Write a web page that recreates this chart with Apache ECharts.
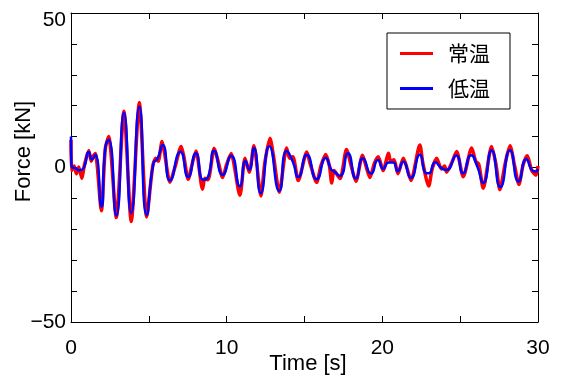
<!DOCTYPE html>
<html>
<head>
<meta charset="utf-8">
<script src="https://cdn.jsdelivr.net/npm/echarts@6/dist/echarts.min.js"></script>
<style>
  html, body { margin: 0; padding: 0; background: #fff; }
  #chart { width: 563px; height: 376px; }
</style>
</head>
<body>
<div id="chart"></div>
<script>
// series names
const seriesNames = ["常温", "低温"];

const normalTemp = [
  [0.00, 9], [0.03, -1], [0.20, 0.5], [0.35, -2.0], [0.50, 0.2], [0.70, -3.5], [0.85, 0.5],
  [1.14, 5.5], [1.30, 2.0], [1.40, 3.5], [1.56, 4.5], [1.95, -14.0], [2.20, 6.0], [2.42, 10.0],
  [2.91, -16.2], [3.40, 18.2], [3.87, -17.5], [4.39, 21.0], [4.86, -16.0], [5.25, 0.5],
  [5.45, 3.0], [5.60, 2.0], [5.85, 8.4], [6.00, 5.0], [6.36, -4.8], [6.70, 0.5], [7.08, 6.8],
  [7.25, 3.5], [7.53, -3.8], [7.80, 1.5], [8.03, 5.3], [8.45, -7.0], [8.60, -3.5], [8.80, -4.0],
  [9.20, 6.2], [9.45, 2.0], [9.74, -3.2], [10.00, 1.0], [10.28, 4.5], [10.85, -9.0],
  [11.18, 3.0], [11.45, -1.5], [11.75, 7.0], [12.20, -9.2], [12.45, 1.5], [12.78, 9.5],
  [13.00, 4.0], [13.38, -8.0], [13.85, 6.3], [14.05, 3.0], [14.25, 3.5], [14.60, -4.2],
  [15.15, 5.0], [15.35, 1.5], [15.78, -4.8], [16.05, 0.5], [16.36, 4.2], [16.60, 0.5],
  [16.75, -5.0], [16.90, -1.0], [17.28, -3.6], [17.70, 5.8], [18.00, 0.5], [18.30, -4.5],
  [18.73, 4.0], [18.95, 0.5], [19.20, -3.2], [19.50, 1.5], [19.74, 3.5], [20.05, -1.0],
  [20.40, 4.6], [20.53, 2.0], [20.75, 2.5], [21.00, -2.0], [21.35, 3.0], [21.60, -0.5],
  [21.84, -4.2], [22.41, 7.3], [22.60, 1.5], [22.98, -6.0], [23.20, -0.5], [23.49, 3.0],
  [23.80, -0.5], [24.00, 0.5], [24.13, -1.5], [24.50, 2.0], [24.77, 5.2], [25.20, -3.0],
  [25.74, 6.3], [26.00, 2.0], [26.20, 1.0], [26.48, -6.7], [27.02, 6.8], [27.30, 1.0],
  [27.55, -7.2], [27.90, 1.5], [28.20, 7.0], [28.50, 0.5], [28.77, -5.5], [29.05, 1.0],
  [29.31, 3.8], [29.60, -1.0], [29.87, -2.5], [30.00, 0.5]
];

// 低温 (blue)
const lowTemp = [
  [0.00, 10], [0.03, 0.5], [0.30, -0.3], [0.55, -0.9], [0.80, -0.3], [1.14, 5.0], [1.35, 2.6],
  [1.56, 4.1], [1.95, -12.6], [2.20, 6.3], [2.42, 9.0], [2.91, -15.5], [3.40, 17.6],
  [3.87, -14.8], [4.39, 19.7], [4.86, -15.3], [5.30, 1.5], [5.55, 2.8], [5.89, 7.3],
  [6.36, -4.2], [7.03, 5.1], [7.53, -3.1], [8.02, 4.6], [8.50, -4.0], [8.80, -3.1],
  [9.20, 5.4], [9.74, -2.4], [10.29, 3.8], [10.85, -6.1], [11.21, 2.1], [11.45, -0.7],
  [11.75, 6.3], [12.19, -8.3], [12.74, 6.9], [13.38, -7.5], [13.85, 5.3], [14.25, 1.9],
  [14.60, -3.1], [15.15, 4.1], [15.78, -3.8], [16.37, 3.1], [16.70, -0.5], [16.90, -1.3],
  [17.28, -2.7], [17.79, 4.6], [18.30, -3.6], [18.75, 3.0], [19.28, -2.0], [19.72, 2.4],
  [20.06, -0.4], [20.40, 1.6], [20.70, 1.6], [20.99, -1.2], [21.34, 1.9], [21.83, -3.4],
  [22.41, 4.1], [22.80, -1.8], [22.98, -1.9], [23.40, 1.7], [23.80, -0.2], [24.11, -0.8],
  [24.75, 3.9], [25.18, -1.9], [25.70, 4.0], [26.10, 0.3], [26.48, -5.0], [27.02, 5.6],
  [27.58, -6.3], [28.20, 5.6], [28.75, -4.5], [29.25, 2.7], [29.65, -1.0], [29.87, -1.3],
  [30.00, -0.5]
];

// tick labels shown on the axes
const xLabels = [0, 10, 20, 30];
const yLabels = { "50": "{top|50}", "0": "0", "-50": "\u221250" };

const font = "'Liberation Sans', Arial, sans-serif";
const chart = echarts.init(document.getElementById("chart"));

const tickStyle = { show: true, inside: true, length: 6, lineStyle: { color: "#000", width: 1 } };
const lineAxis = { show: true, onZero: false, lineStyle: { color: "#000", width: 1 } };

chart.setOption({
  animation: false,
  backgroundColor: "#fff",
  grid: { left: 71, right: 25, top: 13, bottom: 54, outerBoundsMode: "none" },
  legend: {
    data: seriesNames,
    orient: "vertical",
    left: 387,
    top: 33,
    icon: "rect",
    backgroundColor: "#fff",
    borderColor: "#000",
    borderWidth: 1,
    borderRadius: 0,
    padding: [10, 20, 10, 13],
    itemWidth: 33,
    itemHeight: 3,
    itemGap: 14,
    textStyle: {
      fontFamily: "'Noto Sans CJK JP', sans-serif",
      fontSize: 21,
      lineHeight: 20,
      color: "#000",
      padding: [0, 0, 0, 10]
    }
  },
  xAxis: [
    {
      type: "value",
      min: 0,
      max: 30,
      interval: 5,
      name: "Time [s]",
      nameLocation: "middle",
      nameGap: 31,
      nameMoveOverlap: false,
      nameTextStyle: { fontFamily: font, fontSize: 22, color: "#000", padding: [0, 0, 0, 7] },
      axisLine: lineAxis,
      axisTick: tickStyle,
      splitLine: { show: false },
      axisLabel: {
        margin: 16,
        fontFamily: font,
        fontSize: 21,
        color: "#000",
        formatter: (v) => (xLabels.includes(v) ? String(v) : "")
      }
    },
    {
      type: "value",
      position: "top",
      min: 0,
      max: 30,
      interval: 5,
      axisLine: lineAxis,
      axisTick: tickStyle,
      splitLine: { show: false },
      axisLabel: { show: false }
    }
  ],
  yAxis: [
    {
      type: "value",
      min: -50,
      max: 50,
      interval: 10,
      name: "Force [kN]",
      nameLocation: "middle",
      nameGap: 36,
      nameMoveOverlap: false,
      nameTextStyle: { fontFamily: font, fontSize: 22, color: "#000", padding: [0, 0, 0, 32] },
      axisLine: lineAxis,
      axisTick: tickStyle,
      splitLine: { show: false },
      axisLabel: {
        margin: 5,
        fontFamily: font,
        fontSize: 21,
        color: "#000",
        formatter: (v) => yLabels[String(v)] || "",
        rich: {
          top: { fontFamily: font, fontSize: 21, color: "#000", padding: [14, 0, 0, 0] }
        }
      }
    },
    {
      type: "value",
      position: "right",
      min: -50,
      max: 50,
      interval: 10,
      axisLine: lineAxis,
      axisTick: tickStyle,
      splitLine: { show: false },
      axisLabel: { show: false }
    }
  ],
  series: [
    {
      name: seriesNames[0],
      type: "line",
      data: normalTemp,
      symbol: "none",
      smooth: 0.25,
      lineStyle: { color: "#ff0000", width: 3.5 },
      itemStyle: { color: "#ff0000" },
      z: 2
    },
    {
      name: seriesNames[1],
      type: "line",
      data: lowTemp,
      symbol: "none",
      smooth: 0.6,
      lineStyle: { color: "#0000ff", width: 2.5 },
      itemStyle: { color: "#0000ff" },
      z: 3
    }
  ]
});
</script>
</body>
</html>
